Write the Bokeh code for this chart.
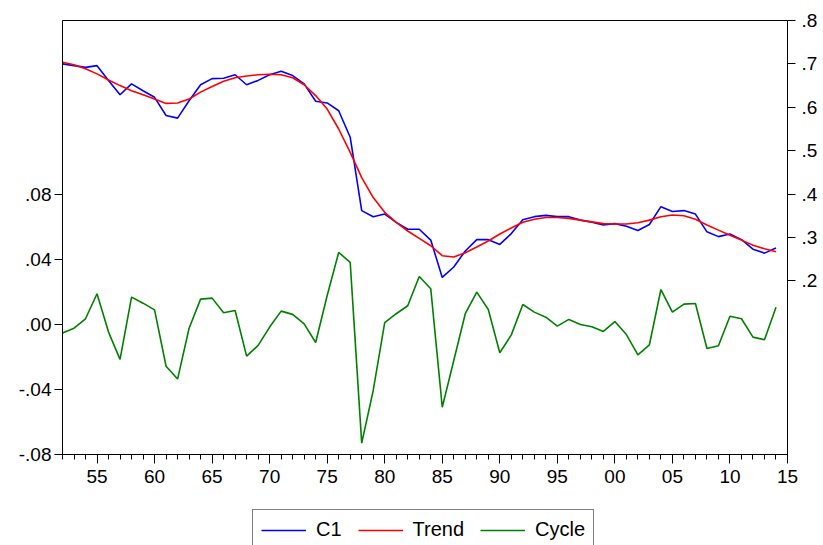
from bokeh.plotting import figure
from bokeh.layouts import column
from bokeh.models import Range1d, LinearAxis, FixedTicker, Legend, LegendItem
from bokeh.embed import file_html
from bokeh.resources import INLINE

years = list(range(1952, 2015))

c1 = [0.700, 0.696, 0.692, 0.696, 0.662, 0.629, 0.654, 0.638, 0.623, 0.581,
      0.575, 0.615, 0.652, 0.666, 0.667, 0.675, 0.652, 0.662, 0.675, 0.683,
      0.673, 0.654, 0.614, 0.610, 0.592, 0.531, 0.362, 0.348, 0.354, 0.335,
      0.319, 0.319, 0.294, 0.208, 0.232, 0.269, 0.295, 0.295, 0.284, 0.309,
      0.341, 0.348, 0.351, 0.348, 0.348, 0.340, 0.335, 0.329, 0.332, 0.326,
      0.316, 0.330, 0.371, 0.360, 0.362, 0.354, 0.313, 0.302, 0.308, 0.295,
      0.273, 0.264, 0.276]

trend = [0.704, 0.698, 0.689, 0.677, 0.663, 0.650, 0.638, 0.629, 0.619, 0.609,
         0.610, 0.619, 0.635, 0.648, 0.660, 0.668, 0.672, 0.675, 0.676, 0.675,
         0.668, 0.652, 0.627, 0.596, 0.550, 0.496, 0.438, 0.392, 0.358, 0.335,
         0.315, 0.298, 0.281, 0.258, 0.255, 0.265, 0.278, 0.292, 0.308, 0.322,
         0.335, 0.342, 0.346, 0.346, 0.344, 0.340, 0.336, 0.332, 0.331, 0.331,
         0.334, 0.340, 0.348, 0.352, 0.350, 0.342, 0.329, 0.317, 0.305, 0.294,
         0.282, 0.274, 0.267]

cycle = [-0.0053, -0.0023, 0.0035, 0.0189, -0.0047, -0.0215, 0.0168, 0.0131, 0.0090, -0.0257,
         -0.0336, -0.0023, 0.0156, 0.0162, 0.0072, 0.0086, -0.0195, -0.0129, -0.0016, 0.0082,
         0.0062, 0.0004, -0.0111, 0.0178, 0.0443, 0.0382, -0.0730, -0.0406, 0.0012, 0.0066,
         0.0115, 0.0295, 0.0220, -0.0509, -0.0222, 0.0066, 0.0199, 0.0092, -0.0174, -0.0064,
         0.0123, 0.0076, 0.0045, -0.0010, 0.0031, 0.0000, -0.0014, -0.0043, 0.0018, -0.0062,
         -0.0187, -0.0125, 0.0215, 0.0076, 0.0125, 0.0129, -0.0148, -0.0131, 0.0051, 0.0035,
         -0.0078, -0.0094, 0.0106]

x_ticks = [1955, 1960, 1965, 1970, 1975, 1980, 1985, 1990, 1995, 2000, 2005, 2010, 2015]
x_labels = ["55", "60", "65", "70", "75", "80", "85", "90", "95", "00", "05", "10", "15"]
left_ticks = [-0.08, -0.04, 0.0, 0.04, 0.08]
left_labels = ["-.08", "-.04", ".00", ".04", ".08"]
right_ticks = [0.2, 0.3, 0.4, 0.5, 0.6, 0.7, 0.8]
right_labels = [".2", ".3", ".4", ".5", ".6", ".7", ".8"]
series_names = ["C1", "Trend", "Cycle"]
series_colors = ["#0000FF", "#FF0000", "#008000"]

FONT = "'Liberation Sans', Arial, sans-serif"
FS = "19px"

p = figure(width=820, height=494, output_backend="svg", toolbar_location=None,
           x_range=Range1d(1952, 2015), y_range=Range1d(-0.08, 0.187),
           min_border_left=62, min_border_top=20, min_border_right=32, min_border_bottom=40,
           background_fill_color="white", border_fill_color="white")
p.extra_y_ranges = {"right": Range1d(-0.2, 0.8)}
p.xgrid.visible = False
p.ygrid.visible = False
p.outline_line_color = "black"
p.outline_line_width = 1

xa = p.xaxis[0]
xa.ticker = FixedTicker(ticks=x_ticks, minor_ticks=list(range(1952, 2016)))
xa.major_label_overrides = {t: l for t, l in zip(x_ticks, x_labels)}
ya = p.yaxis[0]
ya.ticker = FixedTicker(ticks=left_ticks, minor_ticks=[])
ya.major_label_overrides = {t: l for t, l in zip(left_ticks, left_labels)}
ra = LinearAxis(y_range_name="right", ticker=FixedTicker(ticks=right_ticks, minor_ticks=[]))
ra.major_label_overrides = {t: l for t, l in zip(right_ticks, right_labels)}
p.add_layout(ra, "right")

for ax in (xa, ya, ra):
    ax.axis_line_color = "black"
    ax.major_tick_line_color = "black"
    ax.minor_tick_line_color = "black"
    ax.major_tick_in = 0
    ax.minor_tick_in = 0
    ax.major_label_text_font = FONT
    ax.major_label_text_font_size = FS
    ax.major_label_text_color = "black"
xa.major_tick_out = 9
xa.minor_tick_out = 5
xa.major_label_standoff = 6
ya.major_tick_out = 8
ya.minor_tick_out = 0
ya.major_label_standoff = 3
ra.major_tick_out = 8
ra.minor_tick_out = 0
ra.major_label_standoff = 6

p.line(years, c1, color=series_colors[0], line_width=1.6, y_range_name="right")
p.line(years, trend, color=series_colors[1], line_width=1.6, y_range_name="right")
p.line(years, cycle, color=series_colors[2], line_width=1.6)

# legend strip below the chart (its frame is aligned with the chart frame by the column)
lg = figure(width=820, height=51, output_backend="svg", toolbar_location=None,
            x_range=Range1d(0, 1), y_range=Range1d(0, 1),
            x_axis_location=None, y_axis_location=None,
            min_border=0, min_border_left=0, min_border_right=0,
            min_border_top=0, min_border_bottom=0,
            background_fill_color="white", border_fill_color="white")
lg.grid.visible = False
lg.outline_line_color = None
lr1 = lg.line(years, c1, color=series_colors[0], line_width=1.6)
lr2 = lg.line(years, trend, color=series_colors[1], line_width=1.6)
lr3 = lg.line(years, cycle, color=series_colors[2], line_width=1.6)

legend = Legend(items=[LegendItem(label=series_names[0], renderers=[lr1]),
                       LegendItem(label=series_names[1], renderers=[lr2]),
                       LegendItem(label=series_names[2], renderers=[lr3])],
                orientation="horizontal", location=(190, -5),
                label_text_font=FONT, label_text_font_size="20px", label_text_color="black",
                glyph_width=45, glyph_height=16, label_height=16,
                label_standoff=10, spacing=16, padding=8, margin=0,
                border_line_color="black", border_line_width=1,
                background_fill_alpha=1.0)
lg.add_layout(legend, "center")

layout = column(p, lg, spacing=0)
open("out.html", "w").write(file_html(layout, INLINE))
